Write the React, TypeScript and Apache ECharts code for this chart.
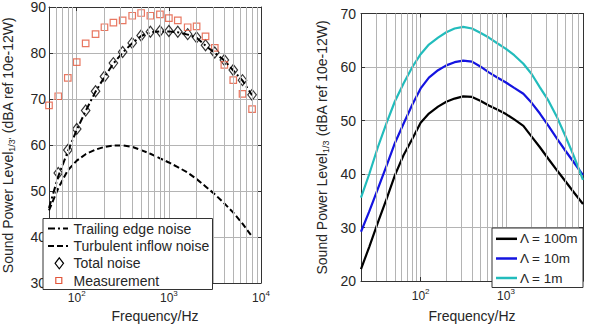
import React, { useEffect, useRef } from "react";
import * as echarts from "echarts";

// ---------- Left panel data (1/3-octave bands) ----------
const leftFreqs = [50, 63, 80, 100, 125, 160, 200, 250, 315, 400, 500, 630, 800, 1000, 1250, 1600, 2000, 2500, 3150, 4000, 5000, 6300, 8000];
const measurement = [68.6, 70.6, 74.6, 78.0, 82.1, 84.1, 85.6, 86.6, 87.1, 88.1, 88.7, 88.1, 88.4, 87.6, 87.1, 85.6, 85.8, 83.6, 81.1, 77.4, 74.1, 71.1, 67.8];
const totalNoise = [null, 53.9, 58.9, 63.5, 67.5, 71.7, 74.9, 77.8, 80.2, 82.2, 83.8, 84.6, 84.8, 84.8, 84.6, 84.1, 83.4, 81.7, 80.1, 78.5, 76.3, 74.1, 70.9];
const trailingEdge = [46.3, 53.2, 58.6, 63.3, 67.4, 71.6, 74.8, 77.7, 80.1, 82.1, 83.7, 84.5, 84.7, 84.7, 84.5, 84.0, 83.3, 81.6, 80.0, 78.4, 76.2, 74.0, 70.8];
const turbulentInflow = [45.8, 50.6, 54.5, 56.6, 58.0, 59.0, 59.6, 59.9, 59.9, 59.6, 58.9, 58.1, 57.1, 56.2, 55.2, 54.0, 52.6, 51.0, 49.3, 47.3, 45.3, 42.9, 40.1];

// ---------- Right panel data ----------
const rightFreqs = [20, 25, 31.5, 40, 50, 63, 80, 100, 125, 160, 200, 250, 315, 400, 500, 630, 800, 1000, 1250, 1600, 2000, 2500, 3150, 4000, 5000, 6300, 8000];
const lambda100 = [22.2, 26.4, 30.9, 35.4, 39.8, 43.5, 46.6, 49.6, 51.3, 52.6, 53.5, 54.1, 54.5, 54.4, 53.7, 52.8, 52.0, 51.2, 50.2, 49.0, 47.0, 45.0, 42.8, 40.6, 38.6, 36.5, 34.4];
const lambda10 = [29.2, 33.0, 37.2, 41.6, 45.8, 49.4, 53.0, 56.0, 58.0, 59.4, 60.3, 60.9, 61.2, 61.0, 60.1, 59.0, 58.0, 57.1, 56.1, 55.0, 53.3, 51.3, 49.0, 46.5, 44.3, 42.1, 39.8];
const lambda1 = [35.6, 40.0, 45.0, 49.6, 53.6, 56.9, 60.0, 62.4, 64.2, 65.5, 66.5, 67.2, 67.5, 67.2, 66.4, 65.5, 64.4, 63.4, 62.2, 60.6, 58.7, 56.2, 53.7, 50.5, 47.0, 43.2, 38.9];

// ---------- Axes / ticks ----------
const leftXRange = [50, 10000];
const leftYRange = [30, 90];
const rightXRange = [20, 8000];
const rightYRange = [20, 70];
const leftMinorGrid = [60, 70, 80, 90, 200, 300, 400, 500, 600, 700, 800, 900, 2000, 3000, 4000, 5000, 6000, 7000, 8000, 9000];
const rightMinorGrid = [30, 40, 50, 60, 70, 80, 90, 200, 300, 400, 500, 600, 700, 800, 900, 2000, 3000, 4000, 5000, 6000, 7000];

const leftLegend = ["Trailing edge noise", "Turbulent inflow noise", "Total noise", "Measurement"];
const rightLegend = ["Λ = 100m", "Λ = 10m", "Λ = 1m"];

const FONT = "Liberation Sans, Arial, Helvetica, sans-serif";
const RED = "#e2553a";
const BLUE = "#1414e0";
const CYAN = "#22bcbc";
const GRID = "#b4b4b4";
const TXT = "#262626";

const pairs = (xs: number[], ys: (number | null)[]) => xs.map((x, i) => [x, ys[i]]);

const logLabel = (v: number) => {
  const e = Math.log10(v);
  if (Math.abs(e - Math.round(e)) > 1e-6) return "";
  return "{b|10}{s|" + Math.round(e) + "}";
};

function xAxes(gridIndex: number, range: number[], nameGap: number) {
  return [
    {
      type: "log",
      logBase: 10,
      gridIndex,
      min: range[0],
      max: range[1],
      position: "bottom",
      name: "Frequency/Hz",
      nameLocation: "middle",
      nameGap,
      nameTextStyle: { fontSize: 14, fontFamily: FONT, color: TXT },
      axisLine: { show: true, onZero: false, lineStyle: { color: "#333", width: 1 } },
      axisTick: { show: true, inside: true, length: 4, lineStyle: { color: "#333" } },
      axisLabel: {
        show: true,
        margin: 6,
        formatter: logLabel,
        color: TXT,
        fontFamily: FONT,
        rich: {
          b: { fontSize: 12, lineHeight: 18, fontFamily: FONT, color: TXT },
          s: { fontSize: 8, lineHeight: 6, verticalAlign: "top", fontFamily: FONT, color: TXT },
        },
      },
      splitLine: { show: true, lineStyle: { color: GRID, width: 1 } },
    },
    {
      type: "log",
      logBase: 10,
      gridIndex,
      min: range[0],
      max: range[1],
      position: "top",
      axisLine: { show: true, onZero: false, lineStyle: { color: "#333", width: 1 } },
      axisTick: { show: true, inside: true, length: 4, lineStyle: { color: "#333" } },
      axisLabel: { show: false },
      splitLine: { show: false },
    },
  ];
}

function yAxes(gridIndex: number, range: number[], name: string, nameGap: number, labelMargin: number) {
  return [
    {
      type: "value",
      gridIndex,
      min: range[0],
      max: range[1],
      interval: 10,
      position: "left",
      name,
      nameLocation: "middle",
      nameGap,
      nameRotate: 90,
      nameTextStyle: {
        fontSize: 14,
        fontFamily: FONT,
        color: TXT,
        rich: {
          t: { fontSize: 14, lineHeight: 16, fontFamily: FONT, color: TXT },
          s: { fontSize: 9, lineHeight: 5, verticalAlign: "bottom", fontFamily: FONT, color: TXT },
        },
      },
      axisLine: { show: true, onZero: false, lineStyle: { color: "#333", width: 1 } },
      axisTick: { show: true, inside: true, length: 4, lineStyle: { color: "#333" } },
      axisLabel: { show: true, margin: labelMargin, fontSize: 14, fontFamily: FONT, color: TXT },
      splitLine: { show: true, lineStyle: { color: GRID, width: 1 } },
    },
    {
      type: "value",
      gridIndex,
      min: range[0],
      max: range[1],
      interval: 10,
      position: "right",
      axisLine: { show: true, onZero: false, lineStyle: { color: "#333", width: 1 } },
      axisTick: { show: true, inside: true, length: 4, lineStyle: { color: "#333" } },
      axisLabel: { show: false },
      splitLine: { show: false },
    },
  ];
}

function gridSeries(xAxisIndex: number, yAxisIndex: number, ticks: number[]) {
  return {
    type: "line",
    xAxisIndex,
    yAxisIndex,
    data: [],
    silent: true,
    markLine: {
      silent: true,
      symbol: ["none", "none"],
      label: { show: false },
      lineStyle: { color: GRID, width: 1, type: "solid" },
      emphasis: { disabled: true },
      data: ticks.map((t) => ({ xAxis: t })),
    },
  };
}

function legendGraphics() {
  const els: any[] = [];
  // left legend
  const lx = 43, ly = 218.5, lw = 169.5, lh = 71;
  els.push({ type: "rect", shape: { x: lx, y: ly, width: lw, height: lh }, style: { fill: "#fff", stroke: "#333", lineWidth: 1 }, z: 100 });
  const rows = [228.5, 246, 263.3, 280.5];
  const tx = 73.5;
  els.push({ type: "line", shape: { x1: 48, y1: rows[0], x2: 68, y2: rows[0] }, style: { stroke: "#000", lineWidth: 2, lineDash: [7, 3, 2, 3] }, z: 101 });
  els.push({ type: "line", shape: { x1: 48, y1: rows[1], x2: 68, y2: rows[1] }, style: { stroke: "#000", lineWidth: 2, lineDash: [6, 3] }, z: 101 });
  els.push({
    type: "polygon",
    shape: { points: [[59.3, rows[2] - 5.5], [63.5, rows[2]], [59.3, rows[2] + 5.5], [55.1, rows[2]]] },
    style: { fill: "none", stroke: "#000", lineWidth: 1.2 },
    z: 101,
  });
  els.push({ type: "rect", shape: { x: 55.8, y: rows[3] - 3, width: 6, height: 6 }, style: { fill: "none", stroke: RED, lineWidth: 1.2 }, z: 101 });
  leftLegend.forEach((t, i) => {
    els.push({
      type: "text",
      x: tx,
      y: rows[i],
      style: { text: t, fontSize: 14, fontFamily: FONT, fill: TXT, align: "left", verticalAlign: "middle", textVerticalAlign: "middle" },
      z: 102,
    });
  });
  // right legend
  const rx = 492, ry = 228, rw = 91, rh = 59.5;
  els.push({ type: "rect", shape: { x: rx, y: ry, width: rw, height: rh }, style: { fill: "#fff", stroke: "#333", lineWidth: 1 }, z: 100 });
  const rrows = [238.8, 258.5, 278];
  const colors = ["#000", BLUE, CYAN];
  rightLegend.forEach((t, i) => {
    els.push({ type: "line", shape: { x1: 496, y1: rrows[i], x2: 517, y2: rrows[i] }, style: { stroke: colors[i], lineWidth: 2.5 }, z: 101 });
    els.push({
      type: "text",
      x: 520,
      y: rrows[i],
      style: { text: t, fontSize: 13.5, fontFamily: FONT, fill: TXT, align: "left", verticalAlign: "middle", textVerticalAlign: "middle" },
      z: 102,
    });
  });
  return els;
}

export default function App() {
  const ref = useRef<HTMLDivElement>(null);
  useEffect(() => {
    if (!ref.current) return;
    const chart = echarts.init(ref.current, undefined, { renderer: "svg" });
    const option: any = {
      animation: false,
      backgroundColor: "#fff",
      textStyle: { fontFamily: FONT },
      grid: [
        { left: 43, top: 7, width: 218, height: 282.5 },
        { left: 361, top: 13.5, width: 222, height: 274 },
      ],
      xAxis: [...xAxes(0, leftXRange, 26), ...xAxes(1, rightXRange, 28)],
      yAxis: [
        ...yAxes(0, leftYRange, "{t|Sound Power Level}{s|1/3'}{t| (dBA ref 10e-12W)}", 33, 3),
        ...yAxes(1, rightYRange, "{t|Sound Power Level}{s|1/3}{t| (dBA ref 10e-12W)}", 31, 5),
      ],
      series: [
        gridSeries(0, 0, leftMinorGrid),
        gridSeries(2, 2, rightMinorGrid),
        {
          name: leftLegend[1],
          type: "line",
          xAxisIndex: 0,
          yAxisIndex: 0,
          symbol: "none",
          data: pairs(leftFreqs, turbulentInflow),
          lineStyle: { color: "#000", width: 2, type: [6, 3] },
        },
        {
          name: leftLegend[0],
          type: "line",
          xAxisIndex: 0,
          yAxisIndex: 0,
          symbol: "none",
          data: pairs(leftFreqs, trailingEdge),
          lineStyle: { color: "#000", width: 2, type: [7, 3, 2, 3] },
        },
        {
          name: leftLegend[2],
          type: "scatter",
          xAxisIndex: 0,
          yAxisIndex: 0,
          symbol: "diamond",
          symbolSize: [8.5, 11],
          data: pairs(leftFreqs, totalNoise).filter((p) => p[1] != null),
          itemStyle: { color: "rgba(0,0,0,0)", borderColor: "#000", borderWidth: 1.2 },
        },
        {
          name: leftLegend[3],
          type: "scatter",
          xAxisIndex: 0,
          yAxisIndex: 0,
          symbol: "rect",
          symbolSize: 6.5,
          data: pairs(leftFreqs, measurement),
          itemStyle: { color: "rgba(0,0,0,0)", borderColor: RED, borderWidth: 1.2 },
        },
        {
          name: rightLegend[0],
          type: "line",
          xAxisIndex: 2,
          yAxisIndex: 2,
          symbol: "none",
          data: pairs(rightFreqs, lambda100),
          lineStyle: { color: "#000", width: 2.2 },
        },
        {
          name: rightLegend[1],
          type: "line",
          xAxisIndex: 2,
          yAxisIndex: 2,
          symbol: "none",
          data: pairs(rightFreqs, lambda10),
          lineStyle: { color: BLUE, width: 2.2 },
        },
        {
          name: rightLegend[2],
          type: "line",
          xAxisIndex: 2,
          yAxisIndex: 2,
          symbol: "none",
          data: pairs(rightFreqs, lambda1),
          lineStyle: { color: CYAN, width: 2.2 },
        },
      ],
      graphic: legendGraphics(),
    };
    chart.setOption(option);
    return () => chart.dispose();
  }, []);
  return <div ref={ref} style={{ position: "fixed", left: 0, top: 0, width: 593, height: 328 }} />;
}
